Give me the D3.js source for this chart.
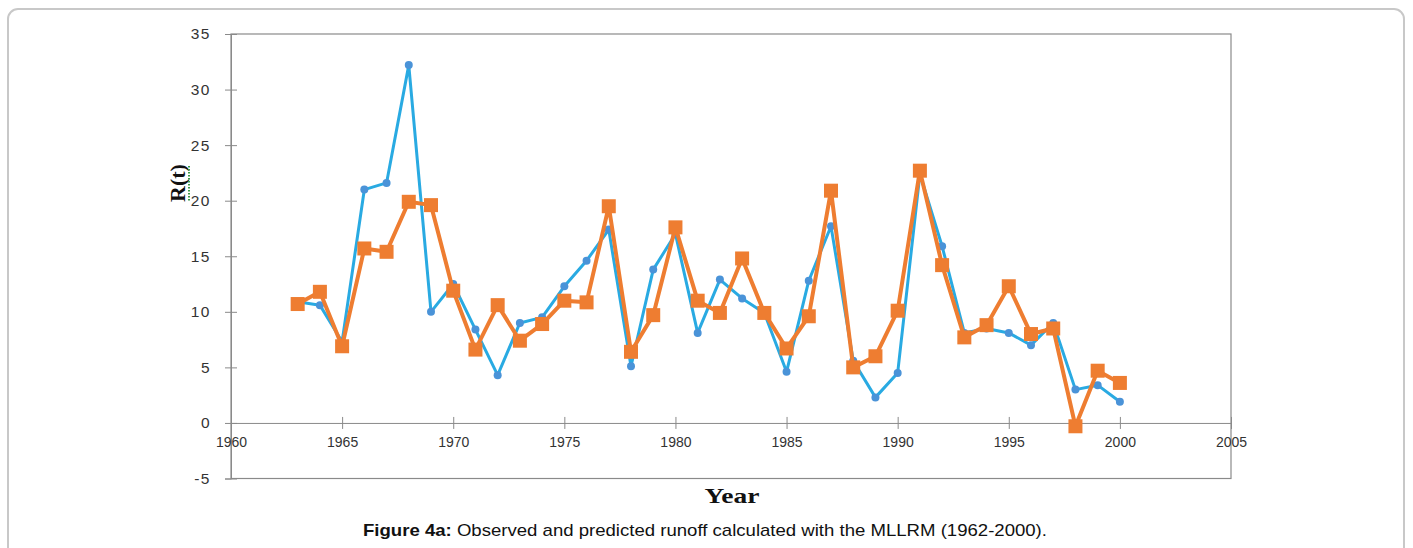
<!DOCTYPE html>
<html lang="en">
  <head>
    <meta charset="UTF-8" />
    <script src="https://d3js.org/d3.v7.min.js"></script>
    <title>Figure 4a</title>
    <style>
      body { margin: 0; background: #fff; }
      svg { display: block; }
    </style>
  </head>
  <body>
    <script>
      // values
      const years = [1963, 1964, 1965, 1966, 1967, 1968, 1969, 1970, 1971, 1972, 1973, 1974, 1975,
        1976, 1977, 1978, 1979, 1980, 1981, 1982, 1983, 1984, 1985, 1986, 1987, 1988, 1989, 1990,
        1991, 1992, 1993, 1994, 1995, 1996, 1997, 1998, 1999, 2000]
      const observed = [10.9, 10.6, 7.3, 21.0, 21.6, 32.2, 10.0, 12.5, 8.4, 4.3, 9.0, 9.5, 12.3,
        14.6, 17.4, 5.1, 13.8, 17.0, 8.1, 12.9, 11.2, 9.9, 4.6, 12.8, 17.7, 5.6, 2.3, 4.5,
        22.4, 15.9, 8.1, 8.5, 8.1, 7.0, 9.0, 3.0, 3.4, 1.9]
      const predicted = [10.7, 11.8, 6.9, 15.7, 15.4, 19.9, 19.6, 11.9, 6.6, 10.6, 7.4, 8.9, 11.0,
        10.85, 19.5, 6.4, 9.7, 17.6, 11.0, 9.9, 14.8, 9.9, 6.7, 9.6, 20.9, 5.0, 6.0, 10.1,
        22.7, 14.2, 7.7, 8.8, 12.3, 8.0, 8.5, -0.3, 4.7, 3.6]
      const xTicks = [1960, 1965, 1970, 1975, 1980, 1985, 1990, 1995, 2000, 2005]
      const yTicks = [-5, 0, 5, 10, 15, 20, 25, 30, 35]

      const W = 1413, H = 548
      const svg = d3.select('body').append('svg').attr('width', W).attr('height', H)

      // outer rounded frame
      svg.append('rect')
        .attr('x', 8).attr('y', 9).attr('width', 1396).attr('height', 570)
        .attr('rx', 10)
        .attr('fill', '#fff').attr('stroke', '#c8c8c8').attr('stroke-width', 2)

      const x = d3.scaleLinear().domain([1960, 2005]).range([231, 1231])
      const y = d3.scaleLinear().domain([-5, 35]).range([478.5, 34])
      const axisColor = '#8a8a8a'

      // plot frame
      svg.append('rect')
        .attr('x', x(1960)).attr('y', y(35))
        .attr('width', x(2005) - x(1960)).attr('height', y(-5) - y(35))
        .attr('fill', 'none').attr('stroke', axisColor).attr('stroke-width', 1.2)

      // y axis
      const gy = svg.append('g')
        .attr('transform', 'translate(' + x(1960) + ',0)')
        .call(d3.axisLeft(y).tickValues(yTicks).tickSize(6).tickPadding(14).tickFormat(d => String(d)))
      gy.select('.domain').attr('stroke', axisColor)
      gy.selectAll('.tick line').attr('stroke', axisColor).attr('x1', -6).attr('x2', 6)
      gy.selectAll('.tick text')
        .attr('fill', '#333')
        .style('font-family', 'Liberation Sans, Arial, sans-serif')
        .style('font-size', '15.5px')
        .style('letter-spacing', '1.5px')

      // x axis at zero
      const gx = svg.append('g')
        .attr('transform', 'translate(0,' + y(0) + ')')
        .call(d3.axisBottom(x).tickValues(xTicks).tickSize(6).tickPadding(8).tickFormat(d => String(d)))
      gx.select('.domain').attr('stroke', axisColor)
      gx.selectAll('.tick line').attr('stroke', axisColor).attr('y1', -6).attr('y2', 6)
      gx.selectAll('.tick text')
        .attr('fill', '#333')
        .style('font-family', 'Liberation Sans, Arial, sans-serif')
        .style('font-size', '14px')

      const line = d3.line().x((d, i) => x(years[i])).y(d => y(d))

      // observed series
      svg.append('path')
        .datum(observed)
        .attr('d', line)
        .attr('fill', 'none').attr('stroke', '#29aae2').attr('stroke-width', 3)
        .attr('stroke-linejoin', 'round')
      svg.selectAll('.obs')
        .data(observed)
        .enter()
        .append('circle')
        .attr('class', 'obs')
        .attr('cx', (d, i) => x(years[i]))
        .attr('cy', d => y(d))
        .attr('r', 4)
        .attr('fill', '#4a93d8')

      // predicted series
      svg.append('path')
        .datum(predicted)
        .attr('d', line)
        .attr('fill', 'none').attr('stroke', '#ee7d31').attr('stroke-width', 4)
        .attr('stroke-linejoin', 'round')
      svg.selectAll('.pred')
        .data(predicted)
        .enter()
        .append('rect')
        .attr('class', 'pred')
        .attr('x', (d, i) => x(years[i]) - 7)
        .attr('y', d => y(d) - 7)
        .attr('width', 14).attr('height', 14)
        .attr('fill', '#ee7d31')

      // axis titles
      svg.append('text')
        .attr('transform', 'translate(185,183) rotate(-90)')
        .attr('text-anchor', 'middle')
        .style('font-family', 'Liberation Serif, Times New Roman, serif')
        .style('font-weight', 'bold')
        .style('font-size', '22px')
        .attr('fill', '#111')
        .text('R(t)')
      // spell-check squiggle under the label
      svg.append('line')
        .attr('x1', 189).attr('x2', 189).attr('y1', 166).attr('y2', 201)
        .attr('stroke', '#3a9a48').attr('stroke-width', 2).attr('stroke-dasharray', '1.5 1.5')

      svg.append('text')
        .attr('x', 732).attr('y', 503)
        .attr('text-anchor', 'middle')
        .attr('textLength', 55).attr('lengthAdjust', 'spacingAndGlyphs')
        .style('font-family', 'Liberation Serif, Times New Roman, serif')
        .style('font-weight', 'bold')
        .style('font-size', '21px')
        .attr('fill', '#111')
        .text('Year')

      // caption
      const cap = svg.append('text')
        .attr('x', 705).attr('y', 536)
        .attr('text-anchor', 'middle')
        .attr('textLength', 684).attr('lengthAdjust', 'spacingAndGlyphs')
        .style('font-family', 'Liberation Sans, Arial, sans-serif')
        .style('font-size', '17px')
        .attr('fill', '#111')
      cap.append('tspan').style('font-weight', 'bold').text('Figure 4a:')
      cap.append('tspan').text(' Observed and predicted runoff calculated with the MLLRM (1962-2000).')
    </script>
  </body>
</html>
